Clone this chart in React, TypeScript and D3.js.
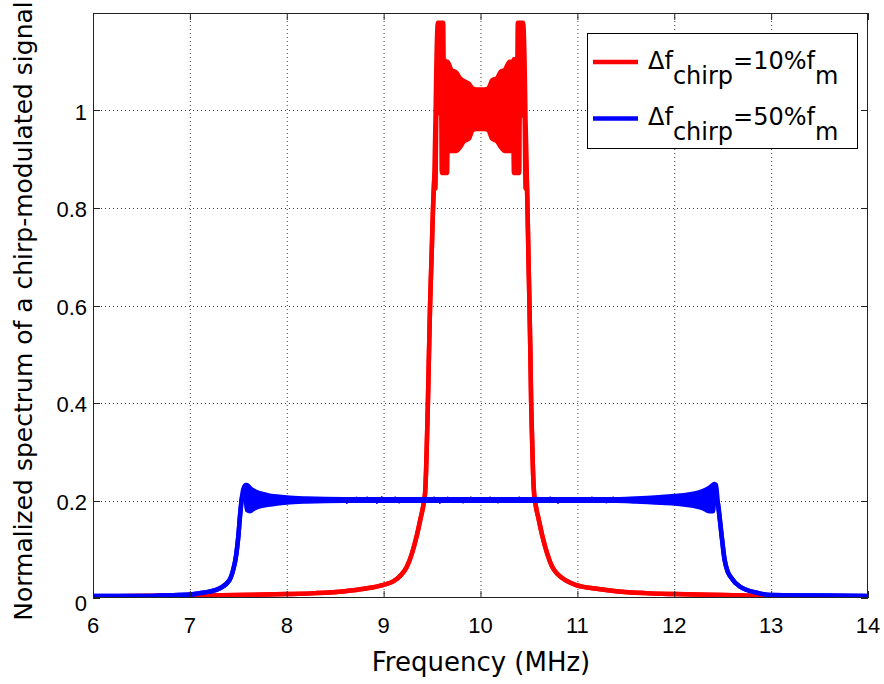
import React from "react";
import * as d3 from "d3";

const xTicks = [6, 7, 8, 9, 10, 11, 12, 13, 14];
const yTicks = [0, 0.2, 0.4, 0.6, 0.8, 1];
const yTickLabels = ["0", "0.2", "0.4", "0.6", "0.8", "1"];

// Red: delta f_chirp = 10% f_m
const redTailLeftFreq = [6.0, 6.5, 7.0, 7.5, 8.0, 8.3, 8.6, 8.8, 9.0, 9.1, 9.18, 9.24, 9.29, 9.34, 9.38, 9.41, 9.428, 9.438, 9.448, 9.457, 9.468, 9.48, 9.495, 9.51];
const redTailLeftVal = [0.003, 0.004, 0.005, 0.006, 0.008, 0.010, 0.014, 0.019, 0.027, 0.034, 0.047, 0.064, 0.09, 0.126, 0.162, 0.19, 0.215, 0.26, 0.33, 0.4, 0.5, 0.605, 0.7, 0.8];
// ripple band: lower / upper envelope
const redBandFreq = [9.525, 9.535, 9.545, 9.56, 9.595, 9.6, 9.615, 9.62, 9.655, 9.66, 9.7, 9.75, 9.79, 9.83, 9.88, 9.92, 9.96, 10.0, 10.04, 10.08, 10.12, 10.17, 10.21, 10.25, 10.3, 10.34, 10.345, 10.38, 10.385, 10.4, 10.405, 10.44, 10.455, 10.465, 10.475];
const redBandLow = [0.86, 0.84, 0.99, 0.995, 0.995, 0.872, 0.872, 0.872, 0.872, 0.917, 0.917, 0.917, 0.925, 0.937, 0.942, 0.96, 0.962, 0.962, 0.962, 0.96, 0.942, 0.937, 0.925, 0.917, 0.917, 0.917, 0.872, 0.872, 0.872, 0.872, 0.99, 0.99, 0.99, 0.84, 0.86];
const redBandHigh = [0.88, 0.98, 1.1, 1.18, 1.18, 1.18, 1.18, 1.105, 1.1, 1.1, 1.083, 1.078, 1.066, 1.06, 1.055, 1.045, 1.043, 1.043, 1.043, 1.045, 1.062, 1.066, 1.08, 1.083, 1.1, 1.1, 1.105, 1.105, 1.18, 1.18, 1.18, 1.18, 1.1, 0.98, 0.9];
const redTailRightFreq = [10.485, 10.495, 10.505, 10.515, 10.523, 10.532, 10.542, 10.553, 10.57, 10.6, 10.64, 10.69, 10.74, 10.8, 10.88, 10.98, 11.2, 11.4, 11.7, 12.0, 12.5, 13.0, 13.5, 14.0];
const redTailRightVal = [0.8, 0.7, 0.605, 0.5, 0.4, 0.33, 0.26, 0.215, 0.19, 0.162, 0.126, 0.09, 0.064, 0.048, 0.036, 0.027, 0.019, 0.014, 0.010, 0.008, 0.006, 0.004, 0.003, 0.003];

// Blue: delta f_chirp = 50% f_m
const blueFreq = [6.0, 6.6, 6.7, 7.0, 7.1, 7.2, 7.31, 7.41, 7.45, 7.47, 7.5, 7.52, 7.55, 7.575, 7.59, 7.62, 7.66, 7.72, 7.8, 7.9, 8.0, 8.2,
  8.6, 9.0, 9.4, 9.8, 10.2, 10.6, 11.0, 11.4, 11.6, 11.8, 12.0, 12.1, 12.2, 12.3, 12.36, 12.4, 12.415, 12.43,
  12.45, 12.49, 12.52, 12.55, 12.58, 12.68, 12.85, 12.99, 13.5, 14.0];
const blueLow = [0.004, 0.004, 0.005, 0.007, 0.010, 0.013, 0.020, 0.037, 0.060, 0.078, 0.126, 0.174, 0.215, 0.205, 0.18, 0.178, 0.183, 0.188, 0.191, 0.194, 0.196, 0.198,
  0.1995, 0.1995, 0.1995, 0.1995, 0.1995, 0.1995, 0.1995, 0.1995, 0.198, 0.196, 0.194, 0.192, 0.189, 0.184, 0.178, 0.178, 0.205, 0.205,
  0.195, 0.126, 0.078, 0.055, 0.044, 0.023, 0.011, 0.006, 0.005, 0.004];
const blueHigh = [0.004, 0.004, 0.005, 0.007, 0.010, 0.013, 0.020, 0.037, 0.060, 0.078, 0.126, 0.174, 0.222, 0.232, 0.232, 0.226, 0.22, 0.215, 0.211, 0.208, 0.206, 0.204,
  0.2025, 0.2025, 0.2025, 0.2025, 0.2025, 0.2025, 0.2025, 0.2025, 0.204, 0.206, 0.209, 0.211, 0.214, 0.22, 0.226, 0.232, 0.234, 0.232,
  0.195, 0.126, 0.078, 0.055, 0.044, 0.023, 0.011, 0.006, 0.005, 0.004];

// Noise spikes on the blue plateau
const blueSpikeFreq = [8.45, 8.62, 8.72, 8.83, 8.93, 8.98, 9.05, 9.12, 9.16, 9.22, 9.52, 9.58, 9.66, 9.74, 9.82, 9.9, 9.97, 10.1, 10.18, 10.26, 10.4, 10.62, 10.72, 10.8, 10.88, 11.15, 11.24, 11.3, 11.37, 11.54];
const blueSpikeVal = [0.207, 0.193, 0.208, 0.208, 0.193, 0.209, 0.207, 0.208, 0.194, 0.207, 0.208, 0.193, 0.208, 0.207, 0.194, 0.208, 0.207, 0.208, 0.194, 0.207, 0.208, 0.207, 0.208, 0.193, 0.207, 0.208, 0.207, 0.194, 0.208, 0.207];

const legendLabels = ["10%", "50%"];
const seriesColors = ["#ff0000", "#0000ff"];

const redFreq = [...redTailLeftFreq, ...redBandFreq, ...redTailRightFreq];
const redLow = [...redTailLeftVal, ...redBandLow, ...redTailRightVal];
const redHigh = [...redTailLeftVal, ...redBandHigh, ...redTailRightVal];

const W = 884;
const H = 684;
const M = { left: 93, right: 868, top: 13, bottom: 598 };

export default function App() {
  const x = d3.scaleLinear().domain([6, 14]).range([M.left, M.right]);
  const y = d3.scaleLinear().domain([0, 1.2]).range([M.bottom, M.top]);

  const mk = (f: number[], lo: number[], hi: number[]) => {
    const idx = f.map((_, i) => i);
    const curve = d3.curveMonotoneX;
    const area = d3.area<number>().curve(curve).x((i) => x(f[i])).y0((i) => y(lo[i])).y1((i) => y(hi[i]))(idx) || "";
    const l1 = d3.line<number>().curve(curve).x((i) => x(f[i])).y((i) => y(lo[i]))(idx) || "";
    const l2 = d3.line<number>().curve(curve).x((i) => x(f[i])).y((i) => y(hi[i]))(idx) || "";
    return { area, l1, l2 };
  };
  const red = mk(redFreq, redLow, redHigh);
  const blue = mk(blueFreq, blueLow, blueHigh);
  const lw = 4.5;
  const tickFont = "'Liberation Sans', Arial, Helvetica, sans-serif";
  const labFont = "'DejaVu Sans', sans-serif";
  const tl = 7;

  return (
    <svg width={W} height={H} style={{ position: "absolute", left: 0, top: 0, background: "#fff" }}>
      <defs>
        <clipPath id="plotclip">
          <rect x={M.left} y={M.top} width={M.right - M.left} height={M.bottom - M.top} />
        </clipPath>
      </defs>
      <rect x={0} y={0} width={W} height={H} fill="#fff" />
      {/* grid */}
      <g stroke="#000" strokeWidth={1} strokeDasharray="1 3" opacity={0.75}>
        {xTicks.slice(1, -1).map((t) => (
          <line key={"gx" + t} x1={x(t) + 0.5} x2={x(t) + 0.5} y1={M.top} y2={M.bottom} />
        ))}
        {yTicks.slice(1).map((t) => (
          <line key={"gy" + t} x1={M.left} x2={M.right} y1={Math.round(y(t)) + 0.5} y2={Math.round(y(t)) + 0.5} />
        ))}
      </g>
      {/* data */}
      <g clipPath="url(#plotclip)" strokeLinejoin="round" strokeLinecap="butt">
        <path d={red.area} fill={seriesColors[0]} stroke="none" />
        <path d={red.l1} fill="none" stroke={seriesColors[0]} strokeWidth={lw} />
        <path d={red.l2} fill="none" stroke={seriesColors[0]} strokeWidth={lw} />
        <path d={blue.area} fill={seriesColors[1]} stroke="none" />
        <path d={blue.l1} fill="none" stroke={seriesColors[1]} strokeWidth={lw} />
        <path d={blue.l2} fill="none" stroke={seriesColors[1]} strokeWidth={lw} />
        {blueSpikeFreq.map((f, i) => (
          <line key={"sp" + i} x1={x(f)} x2={x(f)} y1={y(0.201)} y2={y(blueSpikeVal[i])} stroke={seriesColors[1]} strokeWidth={1.5} />
        ))}
      </g>
      {/* axes box */}
      <rect x={M.left + 0.5} y={M.top + 0.5} width={M.right - M.left - 1} height={M.bottom - M.top - 1} fill="none" stroke="#222" strokeWidth={1} />
      <g stroke="#222" strokeWidth={1}>
        {xTicks.map((t) => (
          <g key={"tx" + t}>
            <line x1={x(t) + 0.5} x2={x(t) + 0.5} y1={M.bottom} y2={M.bottom - tl} />
            <line x1={x(t) + 0.5} x2={x(t) + 0.5} y1={M.top} y2={M.top + tl} />
          </g>
        ))}
        {yTicks.map((t) => (
          <g key={"ty" + t}>
            <line x1={M.left} x2={M.left + tl} y1={Math.round(y(t)) + 0.5} y2={Math.round(y(t)) + 0.5} />
            <line x1={M.right} x2={M.right - tl} y1={Math.round(y(t)) + 0.5} y2={Math.round(y(t)) + 0.5} />
          </g>
        ))}
      </g>
      {/* tick labels */}
      <g fontFamily={tickFont} fontSize={22} fill="#000">
        {xTicks.map((t) => (
          <text key={"lx" + t} x={x(t)} y={633} textAnchor="middle">{String(t)}</text>
        ))}
        {yTicks.map((t, i) => (
          <text key={"ly" + t} x={87} y={y(t) + (t === 0 ? 13 : 9)} textAnchor="end">{yTickLabels[i]}</text>
        ))}
      </g>
      {/* axis labels */}
      <text x={481} y={671} textAnchor="middle" fontFamily={labFont} fontSize={26} fill="#000">Frequency (MHz)</text>
      <text transform="translate(32,311) rotate(-90)" textAnchor="middle" fontFamily={labFont} fontSize={25} fill="#000">
        Normalized spectrum of a chirp-modulated signal
      </text>
      {/* legend */}
      <g>
        <rect x={587.5} y={33.5} width={270} height={115} fill="#fff" stroke="#000" strokeWidth={1} />
        {legendLabels.map((lab, i) => {
          const ly = 62 + i * 56.5;
          return (
            <g key={"lg" + i}>
              <line x1={593} x2={638} y1={ly} y2={ly} stroke={seriesColors[i]} strokeWidth={lw} />
              <text x={648} y={ly + 6.5} fontFamily={labFont} fontSize={24} fill="#000">
                <tspan>Δf</tspan>
                <tspan dy={15}>chirp</tspan>
                <tspan dy={-15}>{"=" + lab + "f"}</tspan>
                <tspan dy={15}>m</tspan>
              </text>
            </g>
          );
        })}
      </g>
    </svg>
  );
}
